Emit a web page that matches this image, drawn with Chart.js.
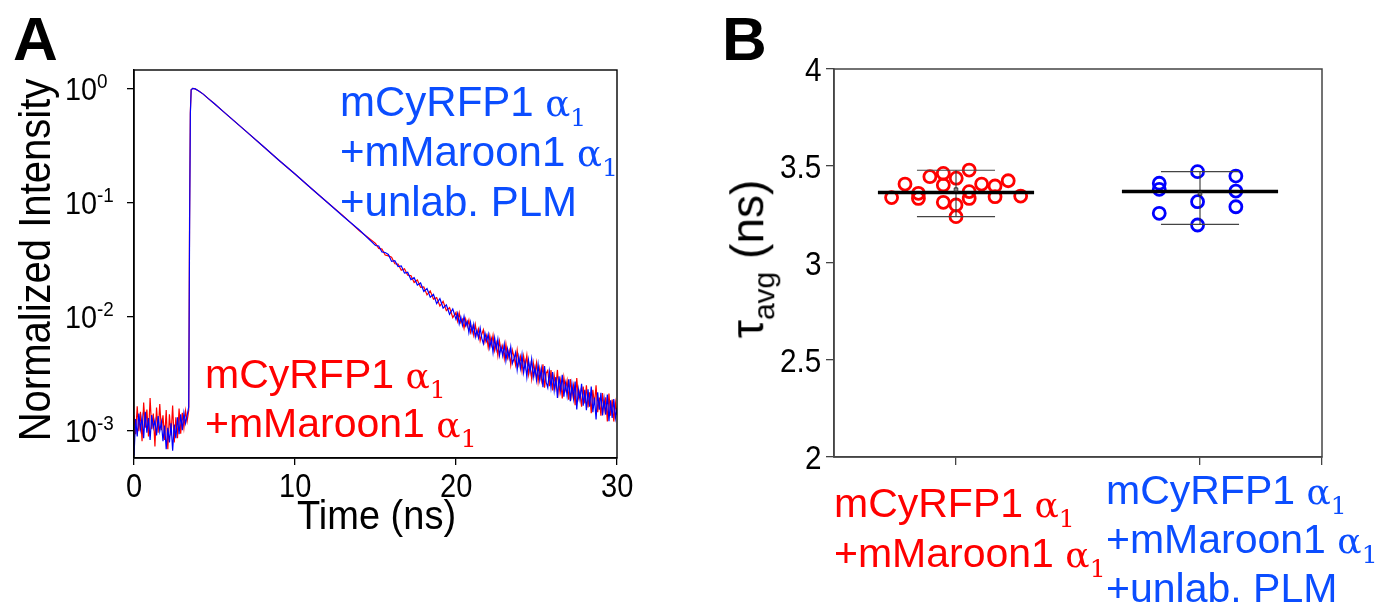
<!DOCTYPE html>
<html>
<head>
<meta charset="utf-8">
<script src="https://cdn.jsdelivr.net/npm/chart.js@4.4.1/dist/chart.umd.min.js"></script>
<style>
html,body{margin:0;padding:0;background:#fff;}
#stage{position:relative;width:1381px;height:603px;overflow:hidden;background:#fff;font-family:"Liberation Sans",Arial,sans-serif;}
canvas{position:absolute;top:0;}
#cA{left:0px;}
#cB{left:700px;}
.t{position:absolute;left:0;top:0;white-space:nowrap;line-height:1;color:#000;}
.m{display:inline-block;width:0;height:0;vertical-align:baseline;}
.gr{font-family:"DejaVu Serif","Liberation Serif",serif;}
</style>
</head>
<body>
<div id="stage">
  <canvas id="cA" width="700" height="603"></canvas>
  <canvas id="cB" width="681" height="603"></canvas>
</div>
<script>
// ================= DATA =================
// Panel A: fluorescence decay, time in ns
const timeNs = [
  0,0.1,0.2,0.3,0.4,0.5,0.6,0.7,0.8,0.9,1,1.1,1.2,1.3,1.4,1.5,1.6,1.7,1.8,1.9,2,2.1,2.2,2.3,2.4,2.5,2.6,2.7,2.8,2.9,3,3.1,3.2,3.3,
  3.4,3.45,3.5,3.55,3.65,
  3.8,4,4.3,4.6,5,5.5,6,7,8,9,10,11,12,13,14,
  15,15.2,15.4,15.6,15.8,16,16.2,16.4,16.6,16.8,17,17.2,17.4,17.6,17.8,18,18.2,18.4,18.6,18.8,19,19.2,19.4,19.6,19.8,
  20,20.1,20.2,20.3,20.4,20.5,20.6,20.7,20.8,20.9,
  21,21.1,21.2,21.3,21.4,21.5,21.6,21.7,21.8,21.9,
  22,22.1,22.2,22.3,22.4,22.5,22.6,22.7,22.8,22.9,
  23,23.1,23.2,23.3,23.4,23.5,23.6,23.7,23.8,23.9,
  24,24.1,24.2,24.3,24.4,24.5,24.6,24.7,24.8,24.9,
  25,25.1,25.2,25.3,25.4,25.5,25.6,25.7,25.8,25.9,
  26,26.1,26.2,26.3,26.4,26.5,26.6,26.7,26.8,26.9,
  27,27.1,27.2,27.3,27.4,27.5,27.6,27.7,27.8,27.9,
  28,28.1,28.2,28.3,28.4,28.5,28.6,28.7,28.8,28.9,
  29,29.1,29.2,29.3,29.4,29.5,29.6,29.7,29.8,29.9,
  30
];
// mCyRFP1 α1 + mMaroon1 α1 (red)
const redIntensity = [
  0.00135,0.00092,0.00162,0.00098,0.00145,0.00080,0.00175,0.00105,0.00152,0.00088,0.00192,0.00102,0.00140,0.00072,0.00158,0.00095,0.00170,0.00100,0.00135,0.00082,0.00150,0.00068,0.00138,0.00090,0.00165,0.00078,0.00130,0.00085,0.00155,0.00093,0.00142,0.00105,0.00148,0.00120,
  0.0015,0.068,0.62,0.97,1.0,
  0.99,0.955,0.891,0.817,0.733,0.635,0.551,0.415,0.312,0.234,0.177,0.133,0.100,0.0760,0.0562,
  0.0436,0.0394,0.0389,0.0345,0.0339,0.0329,0.0289,0.0287,0.0253,0.0261,0.0229,0.0228,0.0198,0.0208,0.0179,0.0181,0.0154,0.0167,0.0141,0.0146,0.0123,0.0135,0.0112,0.0119,0.00975,
  0.0108,0.00907,0.0107,0.00881,0.00940,0.00784,0.00945,0.00813,0.00923,0.00724,
  0.00815,0.00683,0.00845,0.00681,0.00772,0.00609,0.00696,0.00760,0.00594,0.00675,
  0.00531,0.00675,0.00560,0.00679,0.00500,0.00583,0.00451,0.00604,0.00498,0.00551,
  0.00426,0.00571,0.00432,0.00497,0.00374,0.00504,0.00442,0.00373,0.00502,0.00378,
  0.00442,0.00332,0.00447,0.00359,0.00454,0.00309,0.00377,0.00282,0.00391,0.00310,
  0.00389,0.00267,0.00349,0.00275,0.00379,0.00236,0.00316,0.00335,0.00243,0.00337,
  0.00223,0.00302,0.00238,0.00338,0.00214,0.00273,0.00190,0.00290,0.00228,0.00273,
  0.00185,0.00281,0.00198,0.00246,0.00166,0.00287,0.00191,0.00221,0.00161,0.00242,
  0.00172,0.00248,0.00158,0.00215,0.00141,0.00226,0.00168,0.00248,0.00144,0.00193,
  0.00134,0.00212,0.00149,0.00194,0.00119,0.00210,0.00134,0.00186,0.00119,0.00174,
  0.00136
];
// mCyRFP1 α1 + mMaroon1 α1 + unlabelled PLM (blue)
const blueIntensity = [
  0.00060,0.00125,0.00088,0.00140,0.00102,0.00130,0.00085,0.00145,0.00095,0.00128,0.00082,0.00136,0.00105,0.00122,0.00090,0.00133,0.00098,0.00118,0.00080,0.00110,0.00068,0.00105,0.00078,0.00115,0.00066,0.00112,0.00085,0.00130,0.00092,0.00138,0.00100,0.00142,0.00115,0.00135,
  0.0016,0.05,0.60,0.97,1.0,
  0.99,0.955,0.891,0.817,0.733,0.635,0.551,0.415,0.312,0.234,0.177,0.133,0.100,0.0750,0.0572,
  0.0418,0.0414,0.0367,0.0363,0.0349,0.0303,0.0307,0.0273,0.0277,0.0239,0.0243,0.0210,0.0218,0.0188,0.0196,0.0165,0.0175,0.0147,0.0156,0.0129,0.0143,0.0118,0.0126,0.0104,0.0116,
  0.00940,0.0106,0.00856,0.00983,0.00832,0.00996,0.00825,0.00897,0.00719,0.00884,
  0.00722,0.00850,0.00659,0.00753,0.00644,0.00789,0.00642,0.00575,0.00711,0.00606,
  0.00697,0.00531,0.00630,0.00483,0.00646,0.00512,0.00628,0.00452,0.00539,0.00451,
  0.00568,0.00408,0.00517,0.00428,0.00537,0.00385,0.00424,0.00479,0.00340,0.00443,
  0.00350,0.00460,0.00321,0.00396,0.00293,0.00413,0.00324,0.00420,0.00293,0.00356,
  0.00275,0.00378,0.00275,0.00346,0.00238,0.00366,0.00264,0.00236,0.00326,0.00236,
  0.00323,0.00223,0.00292,0.00192,0.00297,0.00221,0.00307,0.00197,0.00258,0.00200,
  0.00279,0.00180,0.00255,0.00190,0.00267,0.00152,0.00229,0.00185,0.00255,0.00164,
  0.00226,0.00150,0.00228,0.00161,0.00241,0.00144,0.00193,0.00124,0.00215,0.00151,
  0.00213,0.00135,0.00188,0.00137,0.00206,0.00120,0.00183,0.00128,0.00188,0.00128,
  0.00157
];
const xTicksA = [0, 10, 20, 30];
const yTickValuesA = [1, 0.1, 0.01, 0.001];
const yTickExponentsA = ['0', '-1', '-2', '-3'];
const xTitleA = 'Time (ns)';
const yTitleA = 'Normalized Intensity';
const legendRedLines = ['mCyRFP1 α1', '+mMaroon1 α1'];
const legendBlueLines = ['mCyRFP1 α1', '+mMaroon1 α1', '+unlab. PLM'];

// Panel B: average lifetimes (ns)
const groupLabels = [['mCyRFP1 α1', '+mMaroon1 α1'], ['mCyRFP1 α1', '+mMaroon1 α1', '+unlab. PLM']];
const redTau = [3.337,3.407,3.359,3.333,3.445,3.462,3.402,3.313,3.437,3.299,3.239,3.479,3.368,3.333,3.407,3.397,3.342,3.424,3.345];
const blueTau = [3.411,3.380,3.256,3.471,3.316,3.196,3.448,3.371,3.290];
const groupMedians = [3.364, 3.369];
const groupMeans = [3.378, 3.358];
const groupMin = [3.239, 3.199];
const groupMax = [3.478, 3.471];
const yTicksB = [2, 2.5, 3, 3.5, 4];
const yTickLabelsB = ['2', '2.5', '3', '3.5', '4'];

// ================= LAYOUT (not data) =================
const RED = '#ff0000', BLUE = '#0000ff', BLUE_TXT = '#0b4dff';
const catPos = [0.5, 1.5];
const redJitter = [-0.264,-0.209,-0.154,-0.154,-0.107,-0.052,-0.052,-0.052,0.001,0,0,0.054,0.054,0.054,0.105,0.16,0.16,0.214,0.265];
const blueJitter = [-0.167,-0.167,-0.167,-0.01,-0.01,-0.01,0.147,0.147,0.147];
const medianHalf = 0.32, capHalf = 0.16;

const framePlugin = {
  id: 'frame',
  afterDraw(chart, args, opts) {
    const a = chart.chartArea, c = chart.ctx;
    c.save();
    c.strokeStyle = opts.color || '#000';
    c.lineWidth = opts.width || 1.5;
    c.strokeRect(a.left, a.top, a.right - a.left, a.bottom - a.top);
    c.restore();
  }
};

// ---------------- Chart A ----------------
const chartA = new Chart(document.getElementById('cA'), {
  type: 'line',
  data: {
    datasets: [
      { label: 'blue', data: timeNs.map((t, i) => ({ x: t, y: blueIntensity[i] })),
        borderColor: BLUE, borderWidth: 1.2, pointRadius: 0, tension: 0, order: 0 },
      { label: 'red', data: timeNs.map((t, i) => ({ x: t, y: redIntensity[i] })),
        borderColor: RED, borderWidth: 1.2, pointRadius: 0, tension: 0, order: 1 }
    ]
  },
  options: {
    responsive: false, animation: false, devicePixelRatio: 1,
    layout: { padding: { top: 70, right: 83, left: 0, bottom: 0 } },
    plugins: { legend: { display: false }, tooltip: { enabled: false }, frame: { color: '#000', width: 1.4 } },
    scales: {
      x: { type: 'linear', min: 0, max: 30,
        afterBuildTicks: s => { s.ticks = xTicksA.map(v => ({ value: v })); },
        afterFit: s => { s.height = 603 - 458; },
        ticks: { display: false },
        grid: { drawOnChartArea: false, drawTicks: true, tickLength: 7, color: '#000', lineWidth: 1.3 },
        border: { color: '#000', width: 1.4 } },
      y: { type: 'logarithmic', min: 5.7e-4, max: 1.45,
        afterBuildTicks: s => { s.ticks = yTickValuesA.map(v => ({ value: v })); },
        afterFit: s => { s.width = 134; },
        ticks: { display: false },
        grid: { drawOnChartArea: false, drawTicks: true, tickLength: 7, color: '#000', lineWidth: 1.3 },
        border: { color: '#000', width: 1.4 } }
    }
  },
  plugins: [framePlugin]
});

// ---------------- Chart B ----------------
function seg(x0, y0, x1, y1, color, width, order) {
  return { type: 'scatter', data: [{ x: x0, y: y0 }, { x: x1, y: y1 }], showLine: true,
    borderColor: color, borderWidth: width, pointRadius: 0, order: order };
}
const dsB = [
  { type: 'scatter', label: 'red', data: redTau.map((v, i) => ({ x: catPos[0] + redJitter[i], y: v })),
    pointStyle: 'circle', pointRadius: 6, borderWidth: 2.8, borderColor: RED, backgroundColor: 'rgba(0,0,0,0)', order: 10 },
  { type: 'scatter', label: 'blue', data: blueTau.map((v, i) => ({ x: catPos[1] + blueJitter[i], y: v })),
    pointStyle: 'circle', pointRadius: 6, borderWidth: 2.8, borderColor: BLUE, backgroundColor: 'rgba(0,0,0,0)', order: 10 }
];
catPos.forEach((c, g) => {
  dsB.push(seg(c, groupMin[g], c, groupMax[g], '#333', 1.1, 3));
  dsB.push(seg(c - capHalf, groupMax[g], c + capHalf, groupMax[g], '#444', 1.1, 3));
  dsB.push(seg(c - capHalf, groupMin[g], c + capHalf, groupMin[g], '#444', 1.1, 3));
  dsB.push(seg(c - medianHalf, groupMedians[g], c + medianHalf, groupMedians[g], '#000', 3.5, 1));
});
dsB.push({ type: 'scatter', data: catPos.map((c, g) => ({ x: c, y: groupMeans[g] })),
  pointStyle: 'rect', pointRadius: 2.5, borderWidth: 1, borderColor: '#222', backgroundColor: 'rgba(0,0,0,0)', order: 0 });

const chartB = new Chart(document.getElementById('cB'), {
  type: 'scatter',
  data: { datasets: dsB },
  options: {
    responsive: false, animation: false, devicePixelRatio: 1,
    layout: { padding: { top: 69, right: 59, left: 0, bottom: 0 } },
    plugins: { legend: { display: false }, tooltip: { enabled: false }, frame: { color: '#444', width: 1.5 } },
    scales: {
      x: { type: 'linear', min: 0, max: 2,
        afterBuildTicks: s => { s.ticks = [0.5, 1.5, 2].map(v => ({ value: v })); },
        afterFit: s => { s.height = 603 - 457; },
        ticks: { display: false },
        grid: { drawOnChartArea: false, drawTicks: true, tickLength: 8, color: '#444', lineWidth: 1.3 },
        border: { color: '#444', width: 1.5 } },
      y: { type: 'linear', min: 2, max: 4,
        afterBuildTicks: s => { s.ticks = yTicksB.map(v => ({ value: v })); },
        afterFit: s => { s.width = 134; },
        ticks: { display: false },
        grid: { drawOnChartArea: false, drawTicks: true, tickLength: 8, color: '#444', lineWidth: 1.3 },
        border: { color: '#444', width: 1.5 } }
    }
  },
  plugins: [framePlugin]
});

// ================= TEXT (HTML overlays) =================
const stage = document.getElementById('stage');
function addText(html, o) {
  const d = document.createElement('div');
  d.className = 't';
  d.style.fontSize = o.size + 'px';
  if (o.color) d.style.color = o.color;
  if (o.bold) d.style.fontWeight = 'bold';
  d.innerHTML = html + '<span class="m"></span>';
  stage.appendChild(d);
  const w = d.offsetWidth, h = d.offsetHeight;
  const baseOff = d.querySelector('.m').getBoundingClientRect().bottom - d.getBoundingClientRect().top;
  const sx = o.scaleX || 1;
  if (o.rotate) {
    const cx = o.baselineX - (baseOff - h / 2);
    d.style.left = (cx - w / 2) + 'px';
    d.style.top = (o.cy - h / 2) + 'px';
    d.style.transformOrigin = '50% 50%';
    d.style.transform = 'rotate(-90deg) scaleX(' + sx + ')';
  } else {
    let left = o.x;
    if (o.align === 'center') left = o.x - w * sx / 2;
    else if (o.align === 'right') left = o.x - w * sx;
    d.style.left = left + 'px';
    d.style.top = (o.baseline - baseOff) + 'px';
    if (sx !== 1) { d.style.transformOrigin = '0 0'; d.style.transform = 'scaleX(' + sx + ')'; }
  }
  return d;
}
const alphaSub = sz => '<span class="gr" style="font-size:' + Math.round(sz * 0.88) + 'px">α</span><span class="gr" style="font-size:' + Math.round(sz * 0.6) + 'px;position:relative;top:10px">1</span>';
const fmt = (s, sz) => s.replace('α1', alphaSub(sz));

// panel letters
addText('A', { x: 13, baseline: 60, size: 62, bold: true });
addText('B', { x: 722, baseline: 60, size: 62, bold: true });

// Panel A ticks
const offA = document.getElementById('cA').offsetLeft;
xTicksA.forEach(v => addText(String(v), { x: offA + chartA.scales.x.getPixelForValue(v), baseline: 497, size: 33, scaleX: 0.88, align: 'center' }));
yTickValuesA.forEach((v, i) => addText('10<span style="font-size:21px;position:relative;top:-12px">' + yTickExponentsA[i] + '</span>',
  { x: 65, baseline: chartA.scales.y.getPixelForValue(v) + 12, size: 32, scaleX: 0.9 }));
addText(xTitleA, { x: offA + (chartA.chartArea.left + chartA.chartArea.right) / 2 + 1, baseline: 529, size: 40, scaleX: 0.95, align: 'center' });
addText(yTitleA, { rotate: true, baselineX: 50, cy: 260, size: 44, scaleX: 0.91 });

// Panel A annotations
legendBlueLines.forEach((s, i) => addText(fmt(s, 42), { x: 340, baseline: 116 + i * 50, size: 42, color: BLUE_TXT }));
legendRedLines.forEach((s, i) => addText(fmt(s, 41), { x: 205, baseline: 388 + i * 49, size: 41, color: RED }));

// Panel B ticks and titles
const offB = document.getElementById('cB').offsetLeft;
yTicksB.forEach((v, i) => addText(yTickLabelsB[i], { x: 821, baseline: chartB.scales.y.getPixelForValue(v) + 11.8, size: 33, scaleX: 0.9, align: 'right' }));
addText('τ<span style="font-size:30px;position:relative;top:11px">avg</span>&nbsp;(ns)', { rotate: true, baselineX: 763, cy: 259, size: 46 });
groupLabels[0].forEach((s, i) => addText(fmt(s, 41), { x: 834, baseline: 517 + i * 50, size: 41, color: RED }));
groupLabels[1].forEach((s, i) => addText(fmt(s, 41), { x: 1106, baseline: 504 + i * 49, size: 41, color: BLUE_TXT }));
</script>
</body>
</html>
